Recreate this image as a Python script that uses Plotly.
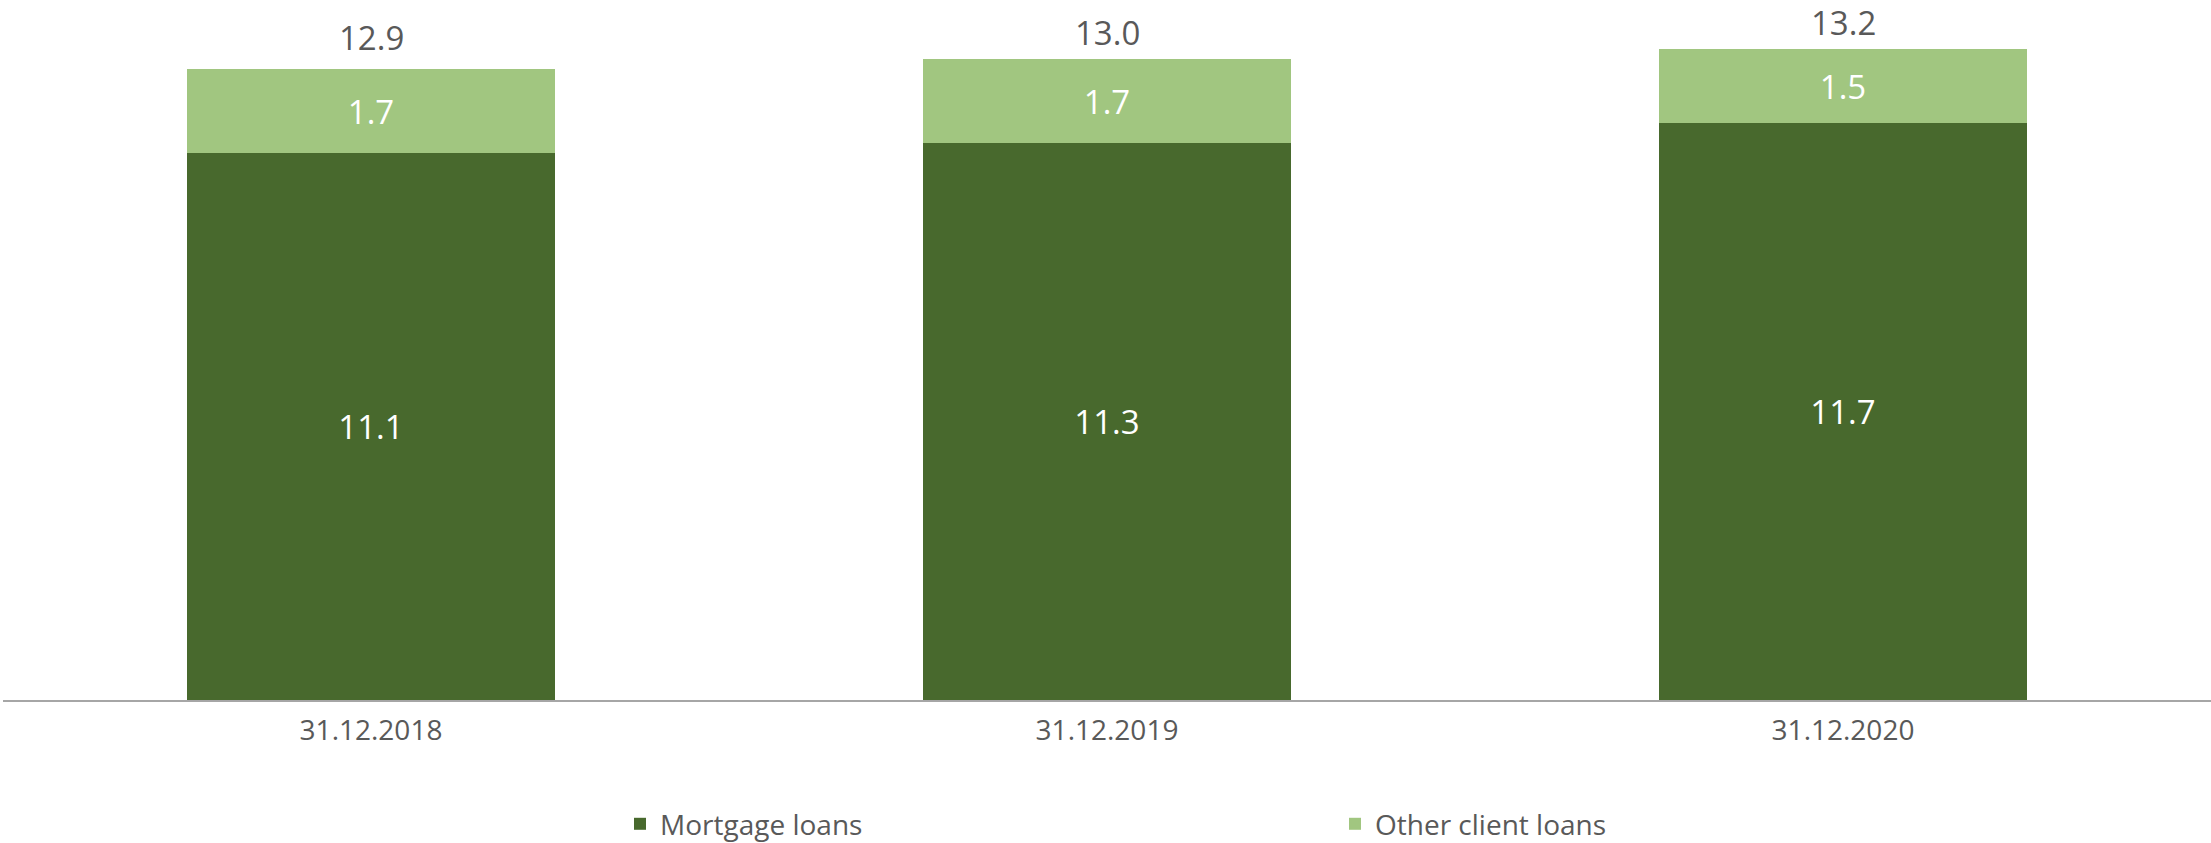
import plotly.graph_objects as go

categories = ["31.12.2018", "31.12.2019", "31.12.2020"]
mortgage = [11.1, 11.3, 11.7]
other = [1.7, 1.7, 1.5]
totals = [12.9, 13.0, 13.2]

DARK = "#48692d"
LIGHT = "#a1c680"
GREY = "#595959"
FONT = "Open Sans"

fig = go.Figure()
fig.add_trace(go.Bar(
    x=categories, y=mortgage, name="Mortgage loans",
    marker=dict(color=DARK, line=dict(width=0)),
    text=[f"{v:.1f}" for v in mortgage], textposition="inside",
    insidetextanchor="middle", textangle=0,
    textfont=dict(color="white", size=33, family=FONT),
))
fig.add_trace(go.Bar(
    x=categories, y=other, name="Other client loans",
    marker=dict(color=LIGHT, line=dict(width=0)),
    text=[f"{v:.1f}" for v in other], textposition="inside",
    insidetextanchor="middle", textangle=0,
    textfont=dict(color="white", size=33, family=FONT),
))

for c, t in zip(categories, totals):
    fig.add_annotation(x=c, y=t, text=f"{t:.1f}", showarrow=False,
                       yanchor="bottom", yshift=2,
                       font=dict(size=33, color=GREY, family=FONT))

fig.update_layout(
    width=2211, height=843,
    barmode="stack", bargap=0.5,
    margin=dict(l=3, r=0, t=10, b=143, autoexpand=False),
    paper_bgcolor="white", plot_bgcolor="white",
    font=dict(family=FONT, color=GREY),
    legend=dict(
        orientation="h", x=(620 - 3) / 2208, xanchor="left",
        y=-(824 - 700) / 689.5, yanchor="middle",
        entrywidth=670, entrywidthmode="pixels",
        font=dict(size=28, color=GREY, family=FONT),
        traceorder="normal", itemclick=False,
    ),
    xaxis=dict(
        range=[-0.5, 2.5], showgrid=False, ticks="", automargin=False,
        showline=True, linecolor="#a6a6a6", linewidth=2,
        tickfont=dict(size=28, color=GREY, family=FONT),
        ticklabelstandoff=4,
    ),
    yaxis=dict(range=[0, 14], visible=False, showgrid=False, zeroline=False,
               automargin=False),
)

fig.write_html(
    "out.html",
    config={"displayModeBar": False},
    post_script="document.body.style.margin='0';document.body.style.overflow='hidden';",
)
